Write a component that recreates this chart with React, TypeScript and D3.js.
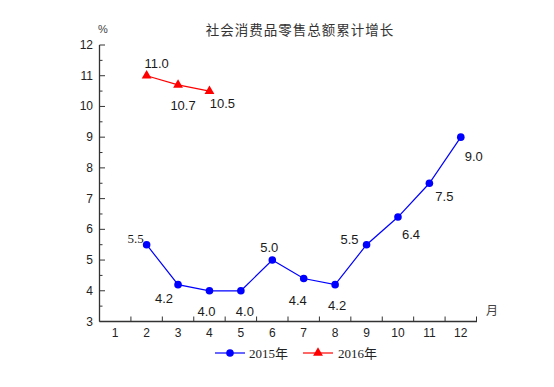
import React, { useRef, useEffect } from "react";
import * as d3 from "d3";

const months = ["1", "2", "3", "4", "5", "6", "7", "8", "9", "10", "11", "12"];
const months2015 = ["2", "3", "4", "5", "6", "7", "8", "9", "10", "11", "12"];
const values2015 = [5.5, 4.2, 4.0, 4.0, 5.0, 4.4, 4.2, 5.5, 6.4, 7.5, 9.0];
const months2016 = ["2", "3", "4"];
const values2016 = [11.0, 10.7, 10.5];
const yTicks = [3, 4, 5, 6, 7, 8, 9, 10, 11, 12];

// label offsets (dx, dy of text centre from the point)
const off2015: [number, number][] = [
  [-11, -7], [-14, 13], [-3, 20], [4, 20], [-3, -13], [-6, 22], [2, 20], [-17, -6], [13, 17], [15, 13], [13, 19],
];
const off2016: [number, number][] = [[10, -13], [5, 20], [13, 12]];

export default function App() {
  const ref = useRef<SVGSVGElement>(null);

  useEffect(() => {
    const svg = d3.select(ref.current);
    svg.selectAll("*").remove();

    const x = d3.scaleBand().domain(months).range([99.5, 476.5]);
    const y = d3.scaleLinear().domain([3, 12]).range([321.5, 45]);
    const cx = (m: string) => (x(m) as number) + x.bandwidth() / 2;

    const g = svg.append("g");

    // title
    g.append("text")
      .attr("x", 300).attr("y", 35)
      .attr("text-anchor", "middle")
      .style("font-family", "'Noto Sans CJK SC'")
      .style("font-size", "13.5px")
      .style("letter-spacing", "1px")
      .attr("fill", "#333")
      .text("社会消费品零售总额累计增长");

    g.append("text").attr("x", 103).attr("y", 33).attr("text-anchor", "middle")
      .style("font-family", "Liberation Sans").style("font-size", "11px").attr("fill", "#444").text("%");
    g.append("text").attr("x", 492).attr("y", 315).attr("text-anchor", "middle")
      .style("font-family", "'Noto Sans CJK SC'").style("font-size", "12px").attr("fill", "#444").text("月");

    // axes
    const axisColor = "#333";
    g.append("line").attr("x1", 99.5).attr("x2", 99.5).attr("y1", y(12)).attr("y2", y(3))
      .attr("stroke", axisColor).attr("stroke-width", 1.3);
    g.append("line").attr("x1", 99.5).attr("x2", 477).attr("y1", y(3)).attr("y2", y(3))
      .attr("stroke", axisColor).attr("stroke-width", 1.3);

    // y ticks major + minor
    const halfTicks = d3.range(3, 12.01, 0.5);
    g.selectAll(".yt").data(halfTicks).enter().append("line")
      .attr("x1", 99.5).attr("x2", (d) => (Number.isInteger(d) ? 105 : 102.5))
      .attr("y1", (d) => y(d)).attr("y2", (d) => y(d))
      .attr("stroke", axisColor).attr("stroke-width", 1);
    g.selectAll(".yl").data(yTicks).enter().append("text")
      .attr("x", 93).attr("y", (d) => y(d) + 4)
      .attr("text-anchor", "end")
      .style("font-family", "Liberation Sans").style("font-size", "12px").attr("fill", "#222")
      .text((d) => d);

    // x ticks at band boundaries
    g.selectAll(".xt").data(months.slice(1).concat(["end"])).enter().append("line")
      .attr("x1", (d) => (d === "end" ? 476.5 : (x(d) as number)))
      .attr("x2", (d) => (d === "end" ? 476.5 : (x(d) as number)))
      .attr("y1", y(3)).attr("y2", y(3) - 5)
      .attr("stroke", axisColor).attr("stroke-width", 1);
    g.selectAll(".xl").data(months).enter().append("text")
      .attr("x", (d) => cx(d)).attr("y", 337)
      .attr("text-anchor", "middle")
      .style("font-family", "Liberation Sans").style("font-size", "12px").attr("fill", "#222")
      .text((d) => d);

    const line = d3.line<[string, number]>().x((d) => cx(d[0])).y((d) => y(d[1]));
    const s15 = months2015.map((m, i) => [m, values2015[i]] as [string, number]);
    const s16 = months2016.map((m, i) => [m, values2016[i]] as [string, number]);

    // 2015 series
    g.append("path").attr("d", line(s15)).attr("fill", "none").attr("stroke", "#0000ff").attr("stroke-width", 1.2);
    g.selectAll(".p15").data(s15).enter().append("circle")
      .attr("cx", (d) => cx(d[0])).attr("cy", (d) => y(d[1])).attr("r", 3.8).attr("fill", "#0000ff");
    g.selectAll(".l15").data(s15).enter().append("text")
      .attr("x", (d, i) => cx(d[0]) + off2015[i][0])
      .attr("y", (d, i) => y(d[1]) + off2015[i][1] + 5)
      .attr("text-anchor", "middle")
      .style("font-family", (d, i) => (i === 0 ? "Liberation Serif" : "Liberation Sans"))
      .style("font-size", "13px").attr("fill", "#1a1a1a")
      .text((d) => d[1].toFixed(1));

    // 2016 series
    const tri = d3.symbol().type(d3.symbolTriangle).size(42);
    g.append("path").attr("d", line(s16)).attr("fill", "none").attr("stroke", "#ff0000").attr("stroke-width", 1.2);
    g.selectAll(".p16").data(s16).enter().append("path")
      .attr("d", tri()).attr("transform", (d) => `translate(${cx(d[0])},${y(d[1])})`).attr("fill", "#ff0000");
    g.selectAll(".l16").data(s16).enter().append("text")
      .attr("x", (d, i) => cx(d[0]) + off2016[i][0])
      .attr("y", (d, i) => y(d[1]) + off2016[i][1] + 5)
      .attr("text-anchor", "middle")
      .style("font-family", "Liberation Sans").style("font-size", "13px").attr("fill", "#1a1a1a")
      .text((d) => d[1].toFixed(1));

    // legend
    const lg = g.append("g").attr("transform", "translate(0,353)");
    lg.append("line").attr("x1", 215).attr("x2", 245).attr("stroke", "#0000ff").attr("stroke-width", 1.2);
    lg.append("circle").attr("cx", 230).attr("r", 3.8).attr("fill", "#0000ff");
    lg.append("text").attr("x", 249).attr("y", 5).style("font-family", "Liberation Serif, 'Noto Sans CJK SC'")
      .style("font-size", "13px").attr("fill", "#222").text("2015年");
    lg.append("line").attr("x1", 303).attr("x2", 333).attr("stroke", "#ff0000").attr("stroke-width", 1.2);
    lg.append("path").attr("d", tri()).attr("transform", "translate(318,0)").attr("fill", "#ff0000");
    lg.append("text").attr("x", 338).attr("y", 5).style("font-family", "Liberation Serif, 'Noto Sans CJK SC'")
      .style("font-size", "13px").attr("fill", "#222").text("2016年");
  }, []);

  return (
    <svg ref={ref} width={554} height={387} style={{ position: "absolute", left: 0, top: 0, background: "#fff" }} />
  );
}
